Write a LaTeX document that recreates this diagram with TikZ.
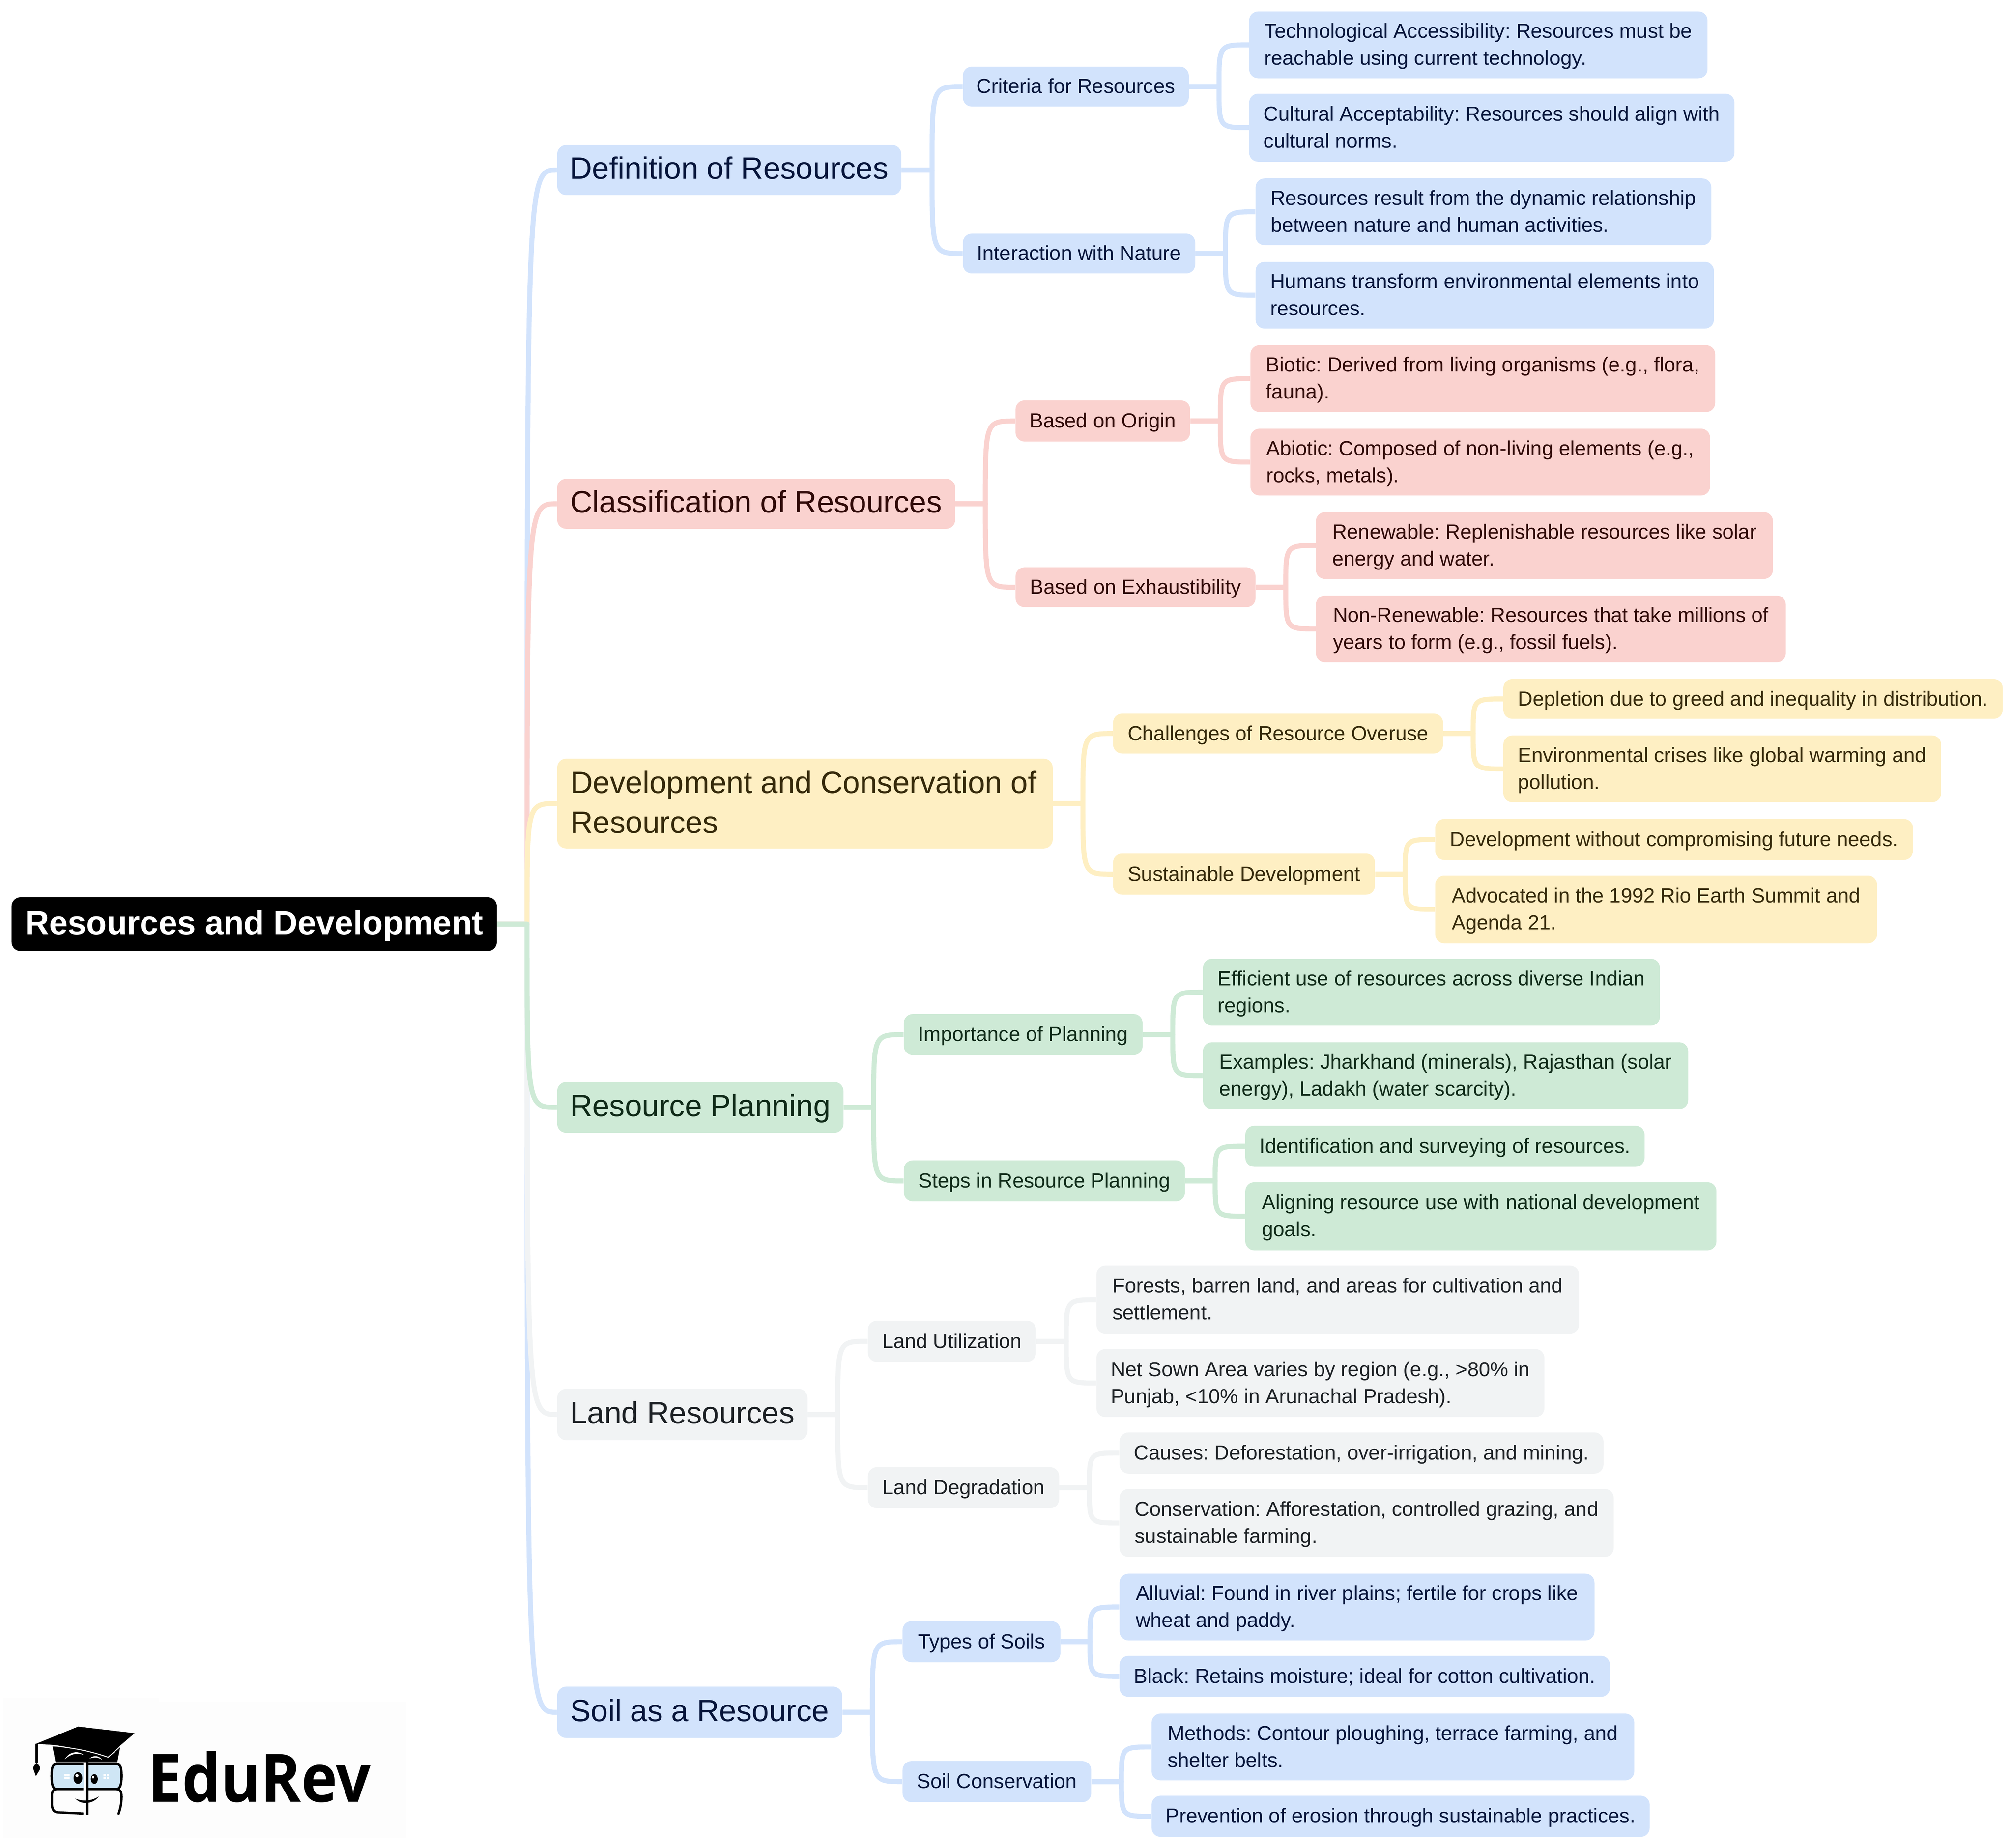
\documentclass[tikz,border=0pt]{standalone}
\usepackage{fontspec}
\setmainfont{Liberation Sans}
\newfontfamily\logofont{Open Sans}
\usetikzlibrary{calc,backgrounds}
\definecolor{cb}{HTML}{D2E3FC}\definecolor{tb}{HTML}{06143A}
\definecolor{cr}{HTML}{FAD2CF}\definecolor{tr}{HTML}{300A08}
\definecolor{cy}{HTML}{FEEFC3}\definecolor{ty}{HTML}{35290A}
\definecolor{cg}{HTML}{CEEAD6}\definecolor{tg}{HTML}{0F2A18}
\definecolor{cn}{HTML}{F1F3F4}\definecolor{tn}{HTML}{1C2024}
\definecolor{glass}{HTML}{CFE6F5}\definecolor{logobg}{HTML}{FDFDFD}
\tikzset{
  box/.style={rectangle,rounded corners=7pt,inner sep=0pt,align=left},
  struts/.style 2 args={execute at begin node={\rule{0pt}{#1pt}},execute at end node={\rule[-#2pt]{0pt}{#2pt}}},
  lroot/.style={box,fill=black,text=white,font=\fontsize{26}{31}\selectfont\bfseries,struts={22}{6}},
  lone/.style={box,font=\fontsize{24}{31}\selectfont,struts={20}{6}},
  lonem/.style={box,font=\fontsize{24}{31}\selectfont,struts={52}{6}},
  ltwo/.style={box,font=\fontsize{15.9}{21}\selectfont,struts={14}{3.5}},
  lthree/.style={box,font=\fontsize{15.9}{21}\selectfont,struts={14}{3.5}},
  lthreem/.style={box,font=\fontsize{15.9}{21}\selectfont,struts={35}{3.5}},
  fb/.style={fill=cb,text=tb},
  fr/.style={fill=cr,text=tr},
  fy/.style={fill=cy,text=ty},
  fg/.style={fill=cg,text=tg},
  fn/.style={fill=cn,text=tn},
  link/.style={line width=3.9pt,line cap=butt,line join=round},
  logoline/.style={line width=1.8pt,line cap=butt}
}
\newcommand\mm[7]{%
  \pgfmathsetmacro\bcx{(#3+#5)/2}\pgfmathsetmacro\bcy{(#4+#6)/2}%
  \pgfmathsetmacro\bw{#5-#3}\pgfmathsetmacro\bh{#6-#4}%
  \node[#2,minimum width=\bw pt,minimum height=\bh pt] (#1) at (\bcx,\bcy) {#7};}
\newcommand\lnk[3]{\draw[link,draw=#3] let \p1=(#1.east),\p2=(#2.west),\n1={0.5*\x1+0.5*\x2} in
  (\p1) -- (\n1,\y1) .. controls (\n1,\y2) and (\n1,\y2) .. (\p2);}
\begin{document}
\frenchspacing
\begin{tikzpicture}[x=1pt,y=-1pt]
\useasboundingbox (0,0) rectangle (1568,1439.6);
% nodes
\mm{root}{lroot}{9}{699}{387}{741}{Resources and Development}
\mm{a}{lone,fb}{434}{113}{702}{152}{Definition of Resources}
\mm{b}{lone,fr}{434}{373}{744}{412}{Classification of Resources}
\mm{c}{lonem,fy}{434}{591}{820}{661}{Development and Conservation of\hspace*{2pt}\\Resources}
\mm{d}{lone,fg}{434}{843}{657}{882.5}{Resource Planning}
\mm{e}{lone,fn}{434}{1082}{629}{1122}{Land Resources}
\mm{f}{lone,fb}{434}{1314}{656}{1354}{Soil as a Resource}
\mm{a1}{ltwo,fb}{750}{52}{926}{83}{Criteria for Resources}
\mm{a2}{ltwo,fb}{750}{182}{931}{213}{Interaction with Nature}
\mm{b1}{ltwo,fr}{791}{312}{927}{344}{Based on Origin}
\mm{b2}{ltwo,fr}{791}{442}{978}{473}{Based on Exhaustibility}
\mm{c1}{ltwo,fy}{867}{556}{1124}{587}{Challenges of Resource Overuse}
\mm{c2}{ltwo,fy}{867}{665}{1071}{697}{Sustainable Development}
\mm{d1}{ltwo,fg}{704}{790}{890}{822}{Importance of Planning}
\mm{d2}{ltwo,fg}{704}{904}{923}{936}{Steps in Resource Planning}
\mm{e1}{ltwo,fn}{676}{1029}{807}{1061}{Land Utilization}
\mm{e2}{ltwo,fn}{676}{1143}{825}{1175}{Land Degradation}
\mm{f1}{ltwo,fb}{703}{1263}{826}{1295}{Types of Soils}
\mm{f2}{ltwo,fb}{703}{1372}{850}{1404}{Soil Conservation}
\mm{a11}{lthreem,fb}{973}{9}{1330}{61}{Technological Accessibility: Resources must be\\reachable using current technology.}
\mm{a12}{lthreem,fb}{973}{73}{1351}{126}{Cultural Acceptability: Resources should align with\\cultural norms.}
\mm{a21}{lthreem,fb}{978}{139}{1333}{191}{Resources result from the dynamic relationship\\between nature and human activities.}
\mm{a22}{lthreem,fb}{978}{204}{1335}{256}{Humans transform environmental elements into\\resources.}
\mm{b11}{lthreem,fr}{974}{269}{1336}{321}{Biotic: Derived from living organisms (e.g., flora,\\fauna).}
\mm{b12}{lthreem,fr}{974}{334}{1332}{386}{Abiotic: Composed of non-living elements (e.g.,\\rocks, metals).}
\mm{b21}{lthreem,fr}{1025}{399}{1381}{451}{Renewable: Replenishable resources like solar\\energy and water.}
\mm{b22}{lthreem,fr}{1025}{464}{1391}{516}{Non-Renewable: Resources that take millions of\\years to form (e.g., fossil fuels).}
\mm{c11}{lthree,fy}{1171}{529}{1560}{560}{Depletion due to greed and inequality in distribution.}
\mm{c12}{lthreem,fy}{1171}{573}{1512}{625}{Environmental crises like global warming and\\pollution.}
\mm{c21}{lthree,fy}{1118}{638}{1490}{670}{Development without compromising future needs.}
\mm{c22}{lthreem,fy}{1118}{682}{1462}{735}{Advocated in the 1992 Rio Earth Summit and\\Agenda 21.}
\mm{d11}{lthreem,fg}{937}{747}{1293}{799}{Efficient use of resources across diverse Indian\\regions.}
\mm{d12}{lthreem,fg}{937}{812}{1315}{864}{Examples: Jharkhand (minerals), Rajasthan (solar\\energy), Ladakh (water scarcity).}
\mm{d21}{lthree,fg}{970}{877}{1281}{909}{Identification and surveying of resources.}
\mm{d22}{lthreem,fg}{970}{921}{1337}{974}{Aligning resource use with national development\\goals.}
\mm{e11}{lthreem,fn}{854}{986}{1230}{1039}{Forests, barren land, and areas for cultivation and\\settlement.}
\mm{e12}{lthreem,fn}{854}{1051}{1203}{1104}{Net Sown Area varies by region (e.g., >80\% in\\Punjab, <10\% in Arunachal Pradesh).}
\mm{e21}{lthree,fn}{872}{1116}{1249}{1148}{Causes: Deforestation, over-irrigation, and mining.}
\mm{e22}{lthreem,fn}{872}{1160}{1257}{1213}{Conservation: Afforestation, controlled grazing, and\\sustainable farming.}
\mm{f11}{lthreem,fb}{872}{1226}{1242}{1278}{Alluvial: Found in river plains; fertile for crops like\\wheat and paddy.}
\mm{f12}{lthree,fb}{872}{1290}{1254}{1322}{Black: Retains moisture; ideal for cotton cultivation.}
\mm{f21}{lthreem,fb}{897}{1335}{1273}{1387}{Methods: Contour ploughing, terrace farming, and\\shelter belts.}
\mm{f22}{lthree,fb}{897}{1399}{1285}{1431}{Prevention of erosion through sustainable practices.}
% connectors
\begin{scope}[on background layer]
\lnk{root}{f}{cb}\lnk{root}{a}{cb}\lnk{root}{b}{cr}\lnk{root}{c}{cy}\lnk{root}{e}{cn}\lnk{root}{d}{cg}
\lnk{a}{a1}{cb}\lnk{a}{a2}{cb}\lnk{a1}{a11}{cb}\lnk{a1}{a12}{cb}\lnk{a2}{a21}{cb}\lnk{a2}{a22}{cb}
\lnk{b}{b1}{cr}\lnk{b}{b2}{cr}\lnk{b1}{b11}{cr}\lnk{b1}{b12}{cr}\lnk{b2}{b21}{cr}\lnk{b2}{b22}{cr}
\lnk{c}{c1}{cy}\lnk{c}{c2}{cy}\lnk{c1}{c11}{cy}\lnk{c1}{c12}{cy}\lnk{c2}{c21}{cy}\lnk{c2}{c22}{cy}
\lnk{d}{d1}{cg}\lnk{d}{d2}{cg}\lnk{d1}{d11}{cg}\lnk{d1}{d12}{cg}\lnk{d2}{d21}{cg}\lnk{d2}{d22}{cg}
\lnk{e}{e1}{cn}\lnk{e}{e2}{cn}\lnk{e1}{e11}{cn}\lnk{e1}{e12}{cn}\lnk{e2}{e21}{cn}\lnk{e2}{e22}{cn}
\lnk{f}{f1}{cb}\lnk{f}{f2}{cb}\lnk{f1}{f11}{cb}\lnk{f1}{f12}{cb}\lnk{f2}{f21}{cb}\lnk{f2}{f22}{cb}
\end{scope}
% logo
\fill[logobg] (2.4,1323) rectangle (124,1432);
\fill[logobg] (124,1326) rectangle (316,1432);
\node[anchor=base west,inner sep=0pt,font=\fontsize{52}{52}\selectfont\logofont\bfseries,text=black,xscale=0.915,transform shape] (brand) at (115,1403.7) {EduRev};
\begin{scope}[shift={(17.13,1336)},x=0.09515pt,y=-0.09515pt]
 % head
 \fill[black] (250,258) -- (805,258) -- (780,388) -- (275,388) -- cycle;
 \fill[white] (350,365) .. controls (385,300) and (460,290) .. (505,328) .. controls (450,308) and (395,320) .. cycle;
 \fill[white] (553,358) .. controls (585,328) and (630,330) .. (657,370) .. controls (625,345) and (590,345) .. cycle;
 % cap
 \draw[white,line width=0.7pt] (245,252) .. controls (400,268) and (550,292) .. (705,347) -- (808,256);
 \fill[black] (460,96) -- (922,150) -- (705,336) .. controls (550,285) and (400,262) .. (245,245) -- (115,237) -- cycle;
 \fill[black] (111,237) rectangle (130,395);
 \fill[black] (120,398) .. controls (145,410) and (152,430) .. (145,450) -- (114,502) -- (95,450) .. controls (88,430) and (95,410) .. cycle;
 % glasses
 \fill[glass] (255,415) rectangle (505,600);
 \fill[glass] (545,415) rectangle (805,600);
 \draw[logoline,black] (503,403) -- (285,403) .. controls (250,403) and (243,430) .. (243,500) .. controls (243,570) and (250,608) .. (285,608) -- (503,608);
 \draw[logoline,black] (535,403) -- (775,403) .. controls (810,403) and (815,440) .. (815,500) .. controls (815,570) and (805,608) .. (770,608) -- (535,608);
 % body
 \draw[logoline,black] (503,808) -- (295,798) .. controls (255,795) and (245,770) .. (245,720) -- (245,660) .. controls (245,630) and (255,612) .. (280,608);
 \draw[logoline,black] (788,816) .. controls (808,760) and (815,720) .. (815,670) .. controls (815,630) and (805,612) .. (775,608);
 \fill[black] (437,685) .. controls (500,712) and (570,705) .. (628,668) .. controls (590,725) and (490,745) .. cycle;
 % bar
 \fill[white] (508,388) rectangle (525,625);
 \fill[black] (526,388) rectangle (546,820);
 % eyes
 \fill[black] (458,517) ellipse [x radius=36,y radius=48];
 \fill[white] (450,497) ellipse [x radius=13,y radius=15];
 \fill[black] (592,525) ellipse [x radius=29,y radius=40];
 \fill[white] (582,510) ellipse [x radius=9,y radius=11];
 % sparkles
 \foreach \sx in {348,371,667,692}{\foreach \sy in {485,510}{\fill[white] (\sx,\sy) rectangle +(19,18);}}
\end{scope}
\end{tikzpicture}
\end{document}
